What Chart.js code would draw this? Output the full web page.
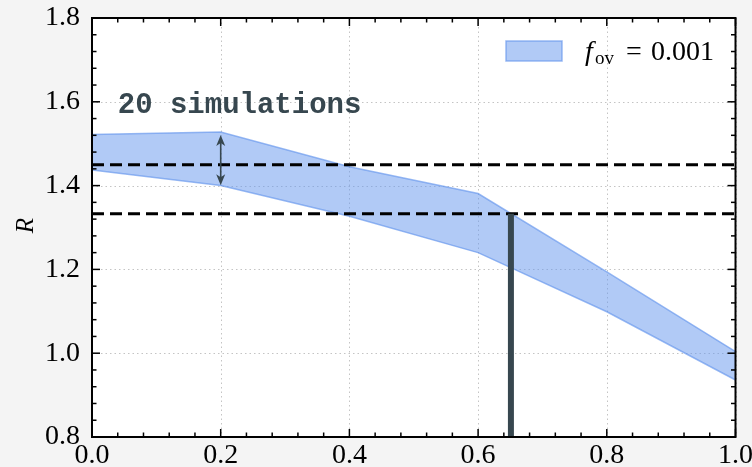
<!DOCTYPE html>
<html><head><meta charset="utf-8">
<script src="https://cdn.jsdelivr.net/npm/chart.js@4.4.1/dist/chart.umd.min.js"></script>
<style>html,body{margin:0;padding:0;background:#f4f4f4;}#wrap{width:752px;height:467px;}</style>
</head><body><div id="wrap"><canvas id="c" width="752" height="467"></canvas></div>
<script>
// ---- data ----
const bandX     = [0.0, 0.2, 0.4, 0.6, 0.8, 1.0];
const bandUpper = [1.522, 1.528, 1.445, 1.381, 1.194, 1.004];
const bandLower = [1.437, 1.400, 1.327, 1.240, 1.099, 0.936];
const hLines    = [1.45, 1.333];
const vLineX    = 0.651;
const vLineY    = [0.8, 1.333];
const arrowX    = 0.2;
const arrowY    = [1.521, 1.401];
const xTicks    = [0.0, 0.2, 0.4, 0.6, 0.8, 1.0];
const yTicks    = [0.8, 1.0, 1.2, 1.4, 1.6, 1.8];
const annText   = '20 simulations';
const annPos    = [0.04, 1.573];
const legendLabel = {f: 'f', sub: 'ov', eq: '=', val: '0.001'};

const FILL = 'rgba(100,149,237,0.5)';
const EDGE = 'rgba(100,149,237,0.65)';
const DARK = '#37474f';
const SERIF = '"Liberation Serif", "DejaVu Serif", serif';

const pts = (xs, ys) => xs.map((x, i) => ({x, y: ys[i]}));

const decor = {
  id: 'decor',
  beforeDraw(chart) {
    const {ctx, chartArea: a} = chart;
    ctx.save();
    ctx.fillStyle = '#f4f4f4';
    ctx.fillRect(0, 0, chart.width, chart.height);
    ctx.fillStyle = '#ffffff';
    ctx.fillRect(a.left, a.top, a.right - a.left, a.bottom - a.top);
    const xs = chart.scales.x, ys = chart.scales.y;
    ctx.strokeStyle = '#c4c4c4';
    ctx.lineWidth = 1;
    ctx.setLineDash([1.5, 3]);
    xTicks.forEach(v => { const p = Math.round(xs.getPixelForValue(v)) + 0.5;
      ctx.beginPath(); ctx.moveTo(p, a.top); ctx.lineTo(p, a.bottom); ctx.stroke(); });
    yTicks.forEach(v => { const p = Math.round(ys.getPixelForValue(v)) + 0.5;
      ctx.beginPath(); ctx.moveTo(a.left, p); ctx.lineTo(a.right, p); ctx.stroke(); });
    ctx.restore();
  },
  afterDatasetsDraw(chart) {
    const {ctx, chartArea: a} = chart;
    const xs = chart.scales.x, ys = chart.scales.y;
    ctx.save();
    // arrow
    const ax = xs.getPixelForValue(arrowX);
    const y1 = ys.getPixelForValue(arrowY[0]), y2 = ys.getPixelForValue(arrowY[1]);
    ctx.strokeStyle = DARK; ctx.fillStyle = DARK; ctx.lineWidth = 1.6;
    ctx.beginPath(); ctx.moveTo(ax, y1 + 6); ctx.lineTo(ax, y2 - 6); ctx.stroke();
    const head = (yTip, dir) => { ctx.beginPath(); ctx.moveTo(ax, yTip);
      ctx.lineTo(ax - 4.5, yTip + dir * 11); ctx.lineTo(ax, yTip + dir * 8); ctx.lineTo(ax + 4.5, yTip + dir * 11);
      ctx.closePath(); ctx.fill(); };
    head(y1, 1); head(y2, -1);
    // annotation text
    ctx.font = 'bold 29px "Liberation Mono", "DejaVu Sans Mono", monospace';
    ctx.fillStyle = DARK; ctx.textBaseline = 'alphabetic'; ctx.textAlign = 'left';
    ctx.fillText(annText, xs.getPixelForValue(annPos[0]), ys.getPixelForValue(annPos[1]));
    // ticks (inward)
    ctx.strokeStyle = '#000'; ctx.lineWidth = 1.5;
    const tick = (x0, y0, x1, y1) => { ctx.beginPath(); ctx.moveTo(x0, y0); ctx.lineTo(x1, y1); ctx.stroke(); };
    for (let k = 0; k <= 25; k++) {
      const v = k * 0.04; const major = k % 5 === 0; const L = major ? 8 : 4.5;
      const px = xs.getPixelForValue(v);
      tick(px, a.bottom, px, a.bottom - L); tick(px, a.top, px, a.top + L);
      const vy = 0.8 + k * 0.04; const py = ys.getPixelForValue(vy);
      tick(a.left, py, a.left + L, py); tick(a.right, py, a.right - L, py);
    }
    // frame
    ctx.lineWidth = 2; ctx.strokeRect(a.left, a.top, a.right - a.left, a.bottom - a.top);
    // y title
    ctx.save();
    ctx.translate(26, (a.top + a.bottom) / 2 - 2);
    ctx.rotate(-Math.PI / 2);
    ctx.font = 'italic 25px ' + SERIF; ctx.fillStyle = '#000'; ctx.textAlign = 'center'; ctx.textBaseline = 'middle';
    ctx.fillText('R', 0, 0);
    ctx.restore();
    // legend
    ctx.fillStyle = FILL; ctx.fillRect(506, 41, 56, 20);
    ctx.strokeStyle = EDGE; ctx.lineWidth = 1.5; ctx.strokeRect(506, 41, 56, 20);
    ctx.fillStyle = '#000'; ctx.textAlign = 'left'; ctx.textBaseline = 'alphabetic';
    ctx.font = 'italic 28px ' + SERIF; ctx.fillText(legendLabel.f, 585, 60);
    ctx.font = '19px ' + SERIF; ctx.fillText(legendLabel.sub, 595, 64);
    ctx.font = '28px ' + SERIF; ctx.textAlign = 'center'; ctx.fillText(legendLabel.eq, 634, 60);
    ctx.textAlign = 'left'; ctx.fillText(legendLabel.val, 651, 60);
    ctx.restore();
  }
};

new Chart(document.getElementById('c'), {
  type: 'scatter',
  data: {
    datasets: [
      { data: pts(bandX, bandLower), showLine: true, borderColor: EDGE, borderWidth: 1.5, pointRadius: 0, fill: false, order: 3, tension: 0 },
      { data: pts(bandX, bandUpper), showLine: true, borderColor: EDGE, borderWidth: 1.5, pointRadius: 0, fill: '-1', backgroundColor: FILL, order: 3, tension: 0 },
      { data: pts([0, 1], [hLines[0], hLines[0]]), showLine: true, borderColor: '#000', borderWidth: 3, borderDash: [12, 6], pointRadius: 0, order: 2 },
      { data: pts([0, 1], [hLines[1], hLines[1]]), showLine: true, borderColor: '#000', borderWidth: 3, borderDash: [12, 6], pointRadius: 0, order: 2 },
      { data: pts([vLineX, vLineX], vLineY), showLine: true, borderColor: DARK, borderWidth: 6, borderCapStyle: 'butt', pointRadius: 0, order: 1 }
    ]
  },
  options: {
    responsive: false, animation: false,
    layout: { padding: { left: 0, top: 18, right: 16.5, bottom: 0 } },
    plugins: { legend: { display: false }, tooltip: { enabled: false } },
    scales: {
      x: { type: 'linear', min: 0, max: 1,
        afterBuildTicks: s => { s.ticks = xTicks.map(v => ({value: v})); },
        afterFit: s => { s.height = 30; s.paddingLeft = 0; s.paddingRight = 0; },
        grid: { display: false, drawTicks: false }, border: { display: false },
        ticks: { padding: 5, color: '#000', font: { family: SERIF, size: 28, lineHeight: 1 }, maxRotation: 0, autoSkip: false,
          callback: v => Number(v).toFixed(1) } },
      y: { type: 'linear', min: 0.8, max: 1.8,
        afterBuildTicks: s => { s.ticks = yTicks.map(v => ({value: v})); },
        afterFit: s => { s.width = 92; s.paddingTop = 0; s.paddingBottom = 0; },
        grid: { display: false, drawTicks: false }, border: { display: false },
        ticks: { padding: 12, color: '#000', font: { family: SERIF, size: 28 }, autoSkip: false,
          callback: v => Number(v).toFixed(1) } }
    }
  },
  plugins: [decor]
});
</script>
</body></html>
